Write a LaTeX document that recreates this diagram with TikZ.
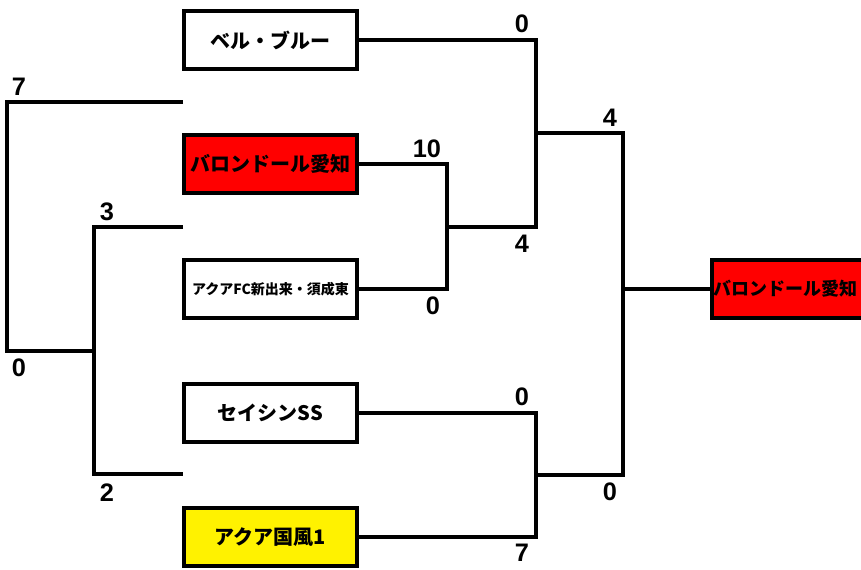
\documentclass[tikz,border=0pt]{standalone}
\usepackage{fontspec}
\setmainfont{Liberation Sans}
\newfontfamily\jpfont{Noto Sans CJK JP}
\tikzset{>=stealth}
\tikzset{team/.style={draw, line width=3pt, minimum width=130pt, minimum height=43.5pt, inner sep=0pt, font=\jpfont\bfseries\fontsize{15pt}{15pt}\selectfont},
  score/.style={inner sep=0pt, font=\bfseries\fontsize{19pt}{19pt}\selectfont}}

\begin{document}
\begin{tikzpicture}[x=0.75pt, y=-0.75pt, line width=3pt]
    \useasboundingbox (0,0) rectangle (861,570);
    \clip (0,0) rectangle (861,570);
    \node[team] (bell) at (270.5,40) {ベル・ブルー};
    \node[team, fill=red] (baron) at (270.5,164) {バロンドール愛知};
    \node[team, font=\jpfont\bfseries\fontsize{10.5pt}{10.5pt}\selectfont] (aqfc) at (270.5,289) {アクアFC新出来・須成東};
    \node[team] (seishin) at (270.5,413) {セイシンSS};
    \node[team, fill=yellow] (aqkf) at (270.5,537) {アクア国風1};
    \node[team, fill=red, text width=127pt, align=left, font=\jpfont\bfseries\fontsize{13.5pt}{13.5pt}\selectfont] (champ) at (798.5,289) {バロンドール愛知};
    \coordinate (qa) at (447,227);
    \coordinate (sa) at (536,133);
    \coordinate (qb) at (536,475);
    \coordinate (f) at (623,289);
    \draw (baron.east) -| (qa) |- (aqfc.east);
    \draw (bell.east) -| (sa) |- (qa);
    \draw (seishin.east) -| (qb) |- (aqkf.east);
    \draw (sa) -| (f) |- (qb);
    \draw (f) -- (champ.west);
    \coordinate (l1) at (183,102);
    \coordinate (l2) at (183,227);
    \coordinate (l3) at (183,474);
    \coordinate (lb) at (94,351);
    \coordinate (lc) at (7,351);
    \draw (l2) -| (lb) |- (l3);
    \draw (l1) -| (lc) -- (lb);
    \node[score] (s1) at (522,24) {0};
    \node[score] (s2) at (427,149) {10};
    \node[score] (s3) at (522,244) {4};
    \node[score] (s4) at (433,306) {0};
    \node[score] (s5) at (610,118) {4};
    \node[score] (s6) at (522,397) {0};
    \node[score] (s7) at (522,553) {7};
    \node[score] (s8) at (610,492) {0};
    \node[score] (s9) at (19,87) {7};
    \node[score] (s10) at (107,212) {3};
    \node[score] (s11) at (19,368) {0};
    \node[score] (s12) at (107,493) {2};
\end{tikzpicture}
\end{document}
